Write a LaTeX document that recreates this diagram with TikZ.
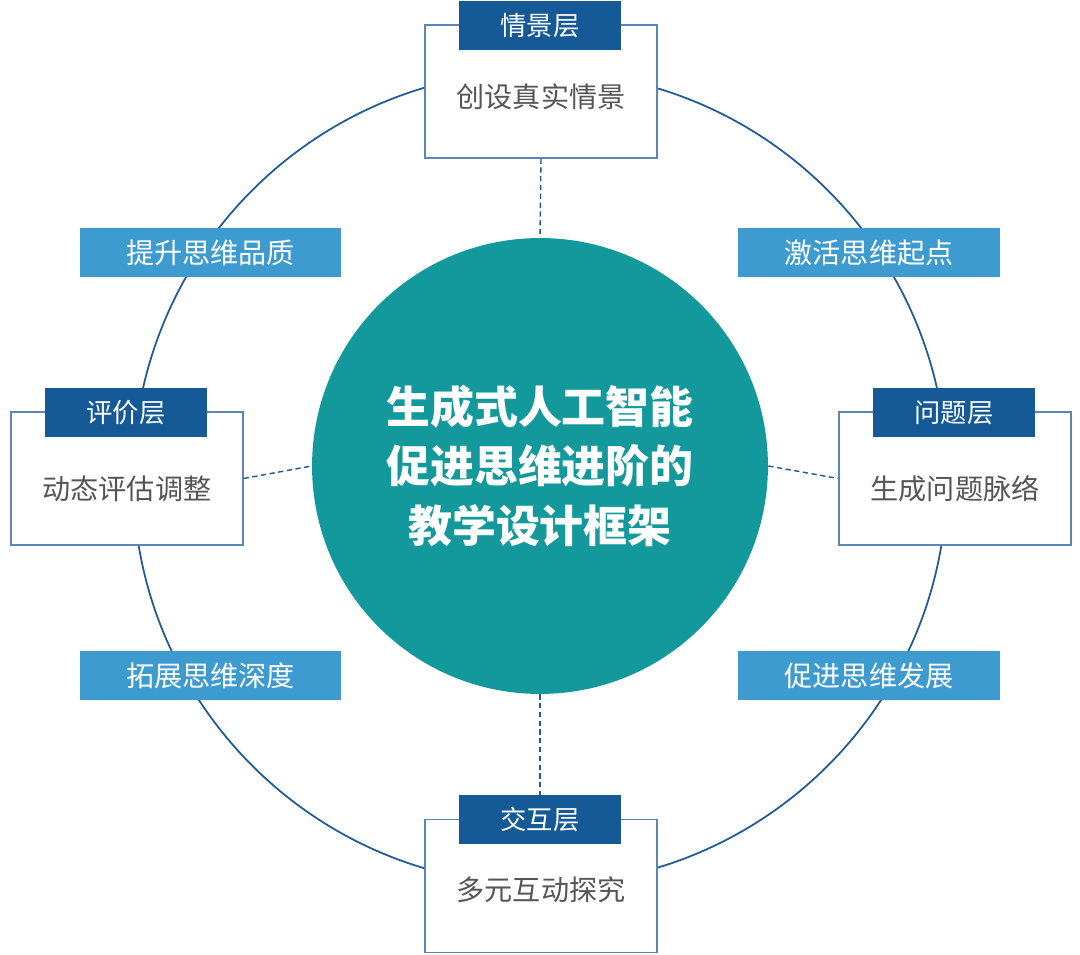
\documentclass[tikz,border=0pt]{standalone}
\usepackage{fontspec}
\newfontfamily\cjk{Noto Sans CJK SC}
\usetikzlibrary{positioning}
\definecolor{ringblue}{HTML}{1F5A96}
\definecolor{headblue}{HTML}{155A96}
\definecolor{tealfill}{HTML}{13999B}
\definecolor{tagblue}{HTML}{3D9BD0}
\definecolor{boxline}{HTML}{5B86B8}
\definecolor{textgray}{HTML}{555555}
\begin{document}
\begin{tikzpicture}[x=0.02cm, y=-0.02cm, font=\cjk,
    layerbox/.style={draw=boxline, line width=0.7pt, fill=white, minimum width=4.64cm, minimum height=2.66cm, inner sep=0pt},
    layerhead/.style={fill=headblue, text=white, minimum width=3.24cm, minimum height=0.98cm, inner sep=0pt, font=\cjk\fontsize{15}{15}\selectfont},
    layertext/.style={text=textgray, font=\cjk\fontsize{16}{16}\selectfont},
    tag/.style={fill=tagblue, text=white, minimum width=5.24cm, minimum height=0.98cm, inner sep=0pt, font=\cjk\fontsize{16}{16}\selectfont},
    link/.style={draw=ringblue, densely dashed, line width=0.8pt}
  ]
  \useasboundingbox (0,0) rectangle (1080,955);
  % outer ring
  \draw[ringblue, line width=1pt] (540,478) circle[radius=8.14cm];
  % centre
  \node (core) [circle, fill=tealfill, minimum size=9.12cm, inner sep=0pt, text=white, align=center,
    font=\cjk\bfseries\fontsize{25}{34}\selectfont] at (540,466) {生成式人工智能\\促进思维进阶的\\教学设计框架};
  % layer boxes
  \node (top) [layerbox] at (541,91.5) {};
  \node (left) [layerbox] at (127,478.5) {};
  \node (right) [layerbox] at (955,478.5) {};
  \node (bottom) [layerbox] at (541,886) {};
  \node (topH) [layerhead] at (540,26) {情景层};
  \node (leftH) [layerhead] at (126,412.5) {评价层};
  \node (rightH) [layerhead] at (954,412.5) {问题层};
  \node (bottomH) [layerhead] at (540,819.5) {交互层};
  \node [layertext] at (541,97) {创设真实情景};
  \node [layertext] at (127,489) {动态评估调整};
  \node [layertext] at (955,489) {生成问题脉络};
  \node [layertext] at (541,890) {多元互动探究};
  % tags
  \node (tagTL) [tag] at (210.5,252.5) {提升思维品质};
  \node (tagTR) [tag] at (869,252.5) {激活思维起点};
  \node (tagBL) [tag] at (210.5,675.5) {拓展思维深度};
  \node (tagBR) [tag] at (869,675.5) {促进思维发展};
  % dashed links
  \draw[link] (top.south) -- (core.north);
  \draw[link] (core.south) -- (bottomH.north);
  \draw[link] (left.east) -- (core.west);
  \draw[link] (core.east) -- (right.west);
\end{tikzpicture}
\end{document}
